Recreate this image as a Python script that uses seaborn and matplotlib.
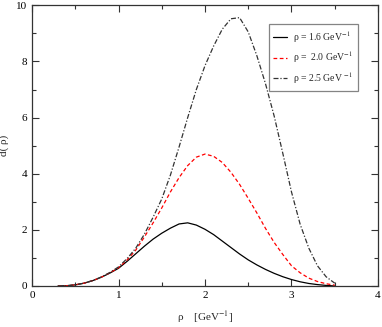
import pandas as pd
import numpy as np
import matplotlib
matplotlib.use('Agg')
import matplotlib.pyplot as plt
import seaborn as sns

# 곡선 데이터
rho = [0.3, 0.4, 0.5, 0.6, 0.7, 0.8, 0.9, 1.0, 1.1, 1.2, 1.3, 1.4, 1.5, 1.6, 1.7, 1.8, 1.9,
       2.0, 2.1, 2.2, 2.3, 2.4, 2.5, 2.6, 2.7, 2.8, 2.9, 3.0, 3.1, 3.2, 3.3, 3.4, 3.5]

d_16 = [0.00, 0.01, 0.04, 0.10, 0.19, 0.31, 0.46, 0.63, 0.88, 1.15, 1.42, 1.67, 1.88, 2.06, 2.21, 2.25, 2.17,
        2.02, 1.83, 1.60, 1.37, 1.14, 0.93, 0.75, 0.59, 0.45, 0.33, 0.23, 0.15, 0.09, 0.05, 0.02, 0.00]

d_20 = [0.00, 0.01, 0.04, 0.10, 0.19, 0.31, 0.47, 0.65, 0.93, 1.28, 1.75, 2.25, 2.78, 3.35, 3.86, 4.29, 4.59,
        4.70, 4.62, 4.40, 4.05, 3.62, 3.12, 2.60, 2.05, 1.55, 1.12, 0.72, 0.47, 0.28, 0.16, 0.08, 0.03]

d_25 = [0.00, 0.01, 0.04, 0.10, 0.19, 0.32, 0.48, 0.68, 0.98, 1.35, 1.85, 2.45, 3.10, 3.95, 4.95, 6.00, 7.00,
        7.85, 8.55, 9.15, 9.52, 9.56, 9.05, 8.20, 7.20, 6.05, 4.72, 3.35, 2.20, 1.35, 0.72, 0.33, 0.10]

labels = ['ρ = 1.6 GeV$^{-1}$', 'ρ =  2.0 GeV$^{-1}$', 'ρ = 2.5 GeV $^{-1}$']

sns.set_style('ticks')
plt.rcParams['font.family'] = ['Liberation Serif', 'DejaVu Serif']
plt.rcParams['mathtext.fontset'] = 'stix'

fig = plt.figure(figsize=(3.82, 3.27), dpi=100)
ax = fig.add_axes([0.0838, 0.1254, 0.9057, 0.8584])

sns.lineplot(x=rho, y=d_16, color='black', linewidth=0.9, label=labels[0], ax=ax)
sns.lineplot(x=rho, y=d_20, color='red', linewidth=0.9, linestyle=(0, (3, 2)), label=labels[1], ax=ax)
sns.lineplot(x=rho, y=d_25, color='#333333', linewidth=0.9, linestyle=(0, (4, 1.5, 1, 1.5)), label=labels[2], ax=ax)

ax.set_xlim(0, 4)
ax.set_ylim(0, 10)
ax.set_xticks([0, 1, 2, 3, 4])
ax.set_yticks([0, 2, 4, 6, 8, 10])
ax.xaxis.set_minor_locator(matplotlib.ticker.MultipleLocator(0.5))
ax.yaxis.set_minor_locator(matplotlib.ticker.MultipleLocator(1))
ax.tick_params(which='both', direction='in', top=True, right=True, labelsize=8, colors='#333333', labelcolor='black')
ax.tick_params(which='major', length=5, width=0.8)
ax.tick_params(which='minor', length=3, width=0.8)
for s in ax.spines.values():
    s.set_color('#333333')
    s.set_linewidth(0.9)

ax.set_xlabel('ρ    [GeV$^{-1}$]', fontsize=8, labelpad=7)
ax.set_ylabel('d( ρ)', fontsize=8, labelpad=5)

leg = ax.legend(loc='upper right', bbox_to_anchor=(0.942, 0.932), borderaxespad=0, fontsize=7, frameon=True,
                fancybox=False, handlelength=1.4, handletextpad=0.6, borderpad=0.5, labelspacing=0.5,
                edgecolor='#666666')
leg.get_frame().set_linewidth(0.9)

fig.savefig('out.png', dpi=100)
